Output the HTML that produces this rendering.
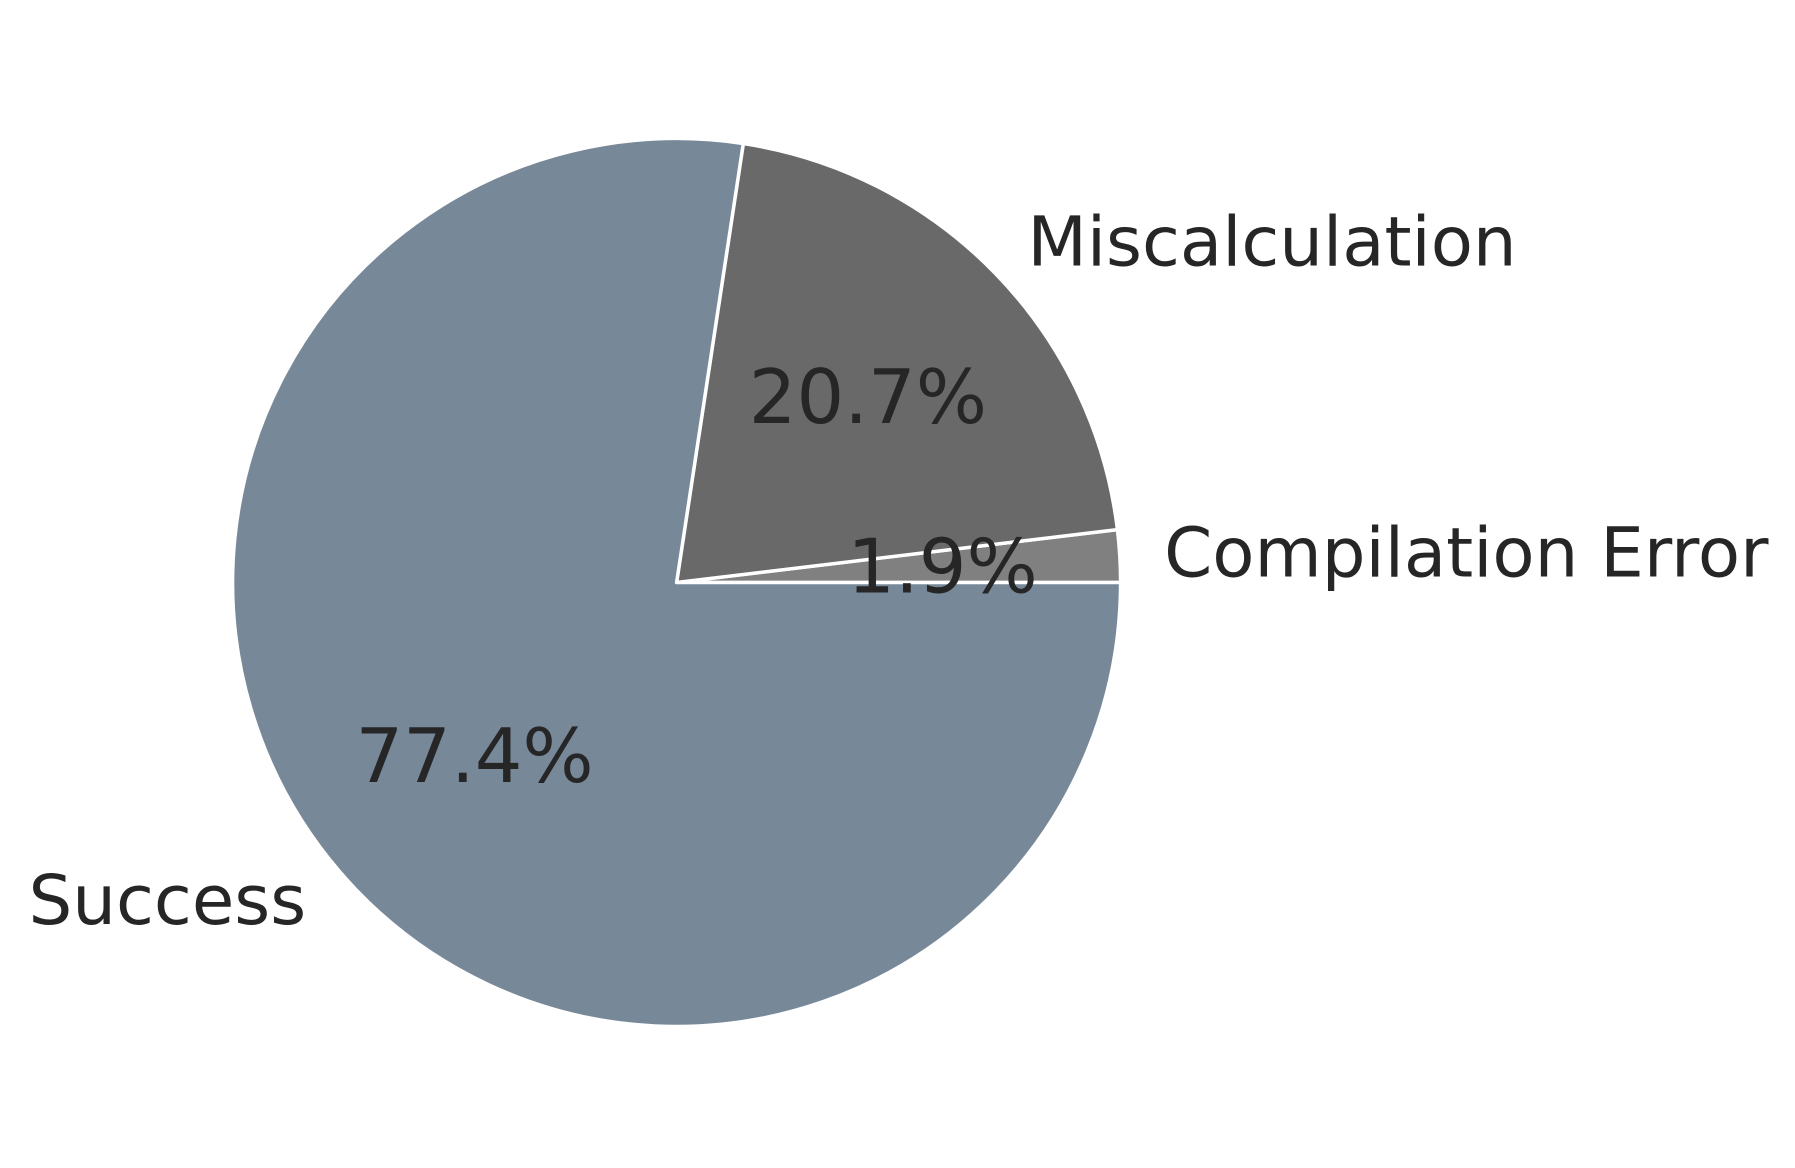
<!DOCTYPE html>
<html><head><meta charset="utf-8"><style>
html,body{margin:0;padding:0;background:#fff;}
svg{display:block;}
text{font-family:"DejaVu Sans","Liberation Sans",sans-serif;fill:#262626;}
</style></head><body>
<svg id="chart" width="1795" height="1168" viewBox="0 0 1795 1168" xmlns="http://www.w3.org/2000/svg"></svg>
<script>
const categories = ["Compilation Error", "Miscalculation", "Success"];
const values = [1.9, 20.7, 77.4];
const pctLabels = ["1.9%", "20.7%", "77.4%"];
const colors = ["#808080", "#696969", "#778899"];

const svg = document.getElementById('chart');
const NS = 'http://www.w3.org/2000/svg';
const cx = 676.6, cy = 582.5, r = 444;
const total = values.reduce((a, b) => a + b, 0);
function pt(angDeg, rad) {
  const a = angDeg * Math.PI / 180;
  return [cx + rad * Math.cos(a), cy - rad * Math.sin(a)];
}
let start = 0;
values.forEach((v, i) => {
  const sweep = v / total * 360;
  const end = start + sweep;
  const [x1, y1] = pt(start, r);
  const [x2, y2] = pt(end, r);
  const large = sweep > 180 ? 1 : 0;
  const p = document.createElementNS(NS, 'path');
  p.setAttribute('d', `M${cx},${cy} L${x1},${y1} A${r},${r} 0 ${large} 0 ${x2},${y2} Z`);
  p.setAttribute('fill', colors[i]);
  p.setAttribute('stroke', '#fff');
  p.setAttribute('stroke-width', '3.5');
  p.setAttribute('stroke-linejoin', 'round');
  
  
  svg.appendChild(p);
  start = end;
});
start = 0;
values.forEach((v, i) => {
  const sweep = v / total * 360;
  const mid = start + sweep / 2;
  const [lx, ly] = pt(mid, r * 1.1);
  const t = document.createElementNS(NS, 'text');
  t.setAttribute('x', lx);
  t.setAttribute('y', ly);
  t.setAttribute('font-size', '69');
  t.setAttribute('dominant-baseline', 'central');
  t.setAttribute('text-anchor', Math.cos(mid * Math.PI / 180) >= 0 ? 'start' : 'end');
  t.textContent = categories[i];
  
  
  svg.appendChild(t);
  const [px, py] = pt(mid, r * 0.6);
  const q = document.createElementNS(NS, 'text');
  q.setAttribute('x', px);
  q.setAttribute('y', py);
  q.setAttribute('font-size', '75');
  q.setAttribute('dominant-baseline', 'central');
  q.setAttribute('text-anchor', 'middle');
  q.textContent = pctLabels[i];
  
  
  svg.appendChild(q);
  start += sweep;
});
</script>
</body></html>
